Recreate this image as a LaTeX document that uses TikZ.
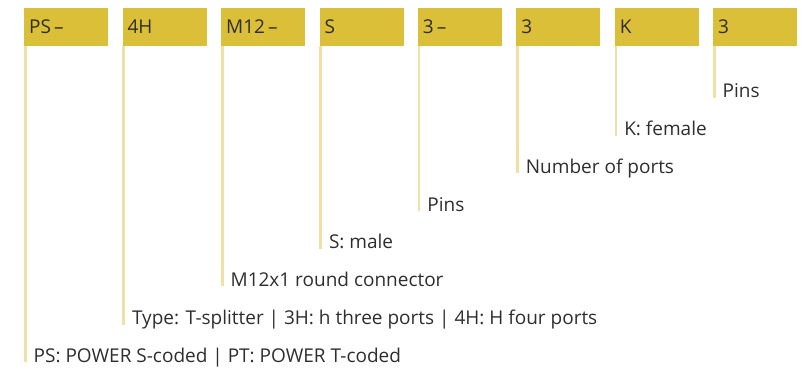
\documentclass[tikz,border=0pt]{standalone}
\usepackage{fontspec}
\setmainfont{Open Sans}
\definecolor{boxyel}{HTML}{DBBF38}
\definecolor{lineyel}{HTML}{F1E0A6}
\definecolor{txt}{HTML}{2E2E2E}
\begin{document}
\begin{tikzpicture}[x=1pt,y=-1pt,
  codebox/.style={fill=boxyel,minimum width=84pt,minimum height=37.7pt,inner sep=0pt,anchor=north west,text=txt,font=\fontsize{19}{19}\selectfont,text width=74pt,align=left},
  lbl/.style={anchor=base west,inner sep=0pt,text=txt,font=\fontsize{19}{19}\selectfont},
  leader/.style={draw=lineyel,line width=2.6pt}]
\useasboundingbox (0,0) rectangle (803,371);
\foreach \i/\x/\t in {1/24/PS\,–,2/122.4/4H,3/220.9/M12\,–,4/319.3/S,5/417.7/3\,–,6/516.2/3,7/614.6/K,8/713/3}{
  \node[codebox] (b\i) at (\x,8) {\t};
}
\foreach \i/\y/\t in {1/362/PS: POWER S-coded | PT: POWER T-coded,
  2/324.5/Type: T-splitter | 3H: h three ports | 4H: H four ports,
  3/286.5/M12x1 round connector,
  4/249/S: male,
  5/211.5/Pins,
  6/173.5/Number of ports,
  7/136/K: female,
  8/98/Pins}{
  \path (b\i.south west) ++(9.5,0) coordinate (c\i);
  \node[lbl] (l\i) at (c\i |- 0,\y) {\t};
  \draw[leader] ([xshift=1.3pt]b\i.south west) -- ([xshift=1.3pt]b\i.south west |- l\i.base);
}
\end{tikzpicture}
\end{document}
